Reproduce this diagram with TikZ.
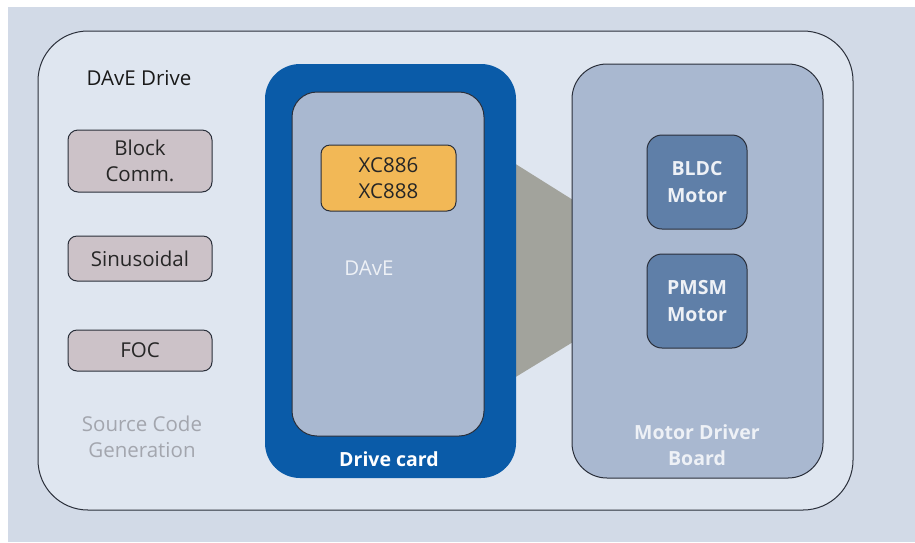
\documentclass[tikz,border=0pt]{standalone}
\usepackage{fontspec}
\setmainfont{Open Sans}
\definecolor{bgout}{HTML}{D2DAE7}
\definecolor{outerfill}{HTML}{DFE6F0}
\definecolor{cardblue}{HTML}{0A5BA8}
\definecolor{panel}{HTML}{A9B8D0}
\definecolor{chip}{HTML}{F2B856}
\definecolor{motor}{HTML}{5F7FA8}
\definecolor{algo}{HTML}{CCC2C8}
\definecolor{wedge}{HTML}{A2A39C}
\definecolor{srcgray}{HTML}{A3A6AE}
\definecolor{edge}{HTML}{2A2F3A}
\definecolor{lighttxt}{HTML}{EEF1F6}
\begin{document}
\begin{tikzpicture}[x=1pt,y=-1pt,
  box/.style={rectangle,draw=edge,line width=1pt,inner sep=0pt,align=center},
  txt/.style={font=\fontsize{20.5}{26.5}\selectfont},
  btxt/.style={font=\fontsize{19.5}{26.5}\selectfont\bfseries},
  lbl/.style={inner sep=0pt,align=center,txt}]
\useasboundingbox (0,0) rectangle (915,542);
\fill[white] (0,0) rectangle (915,542);
\fill[bgout] (8,7) rectangle (915,542);
\node[box,fill=outerfill,rounded corners=50pt,minimum width=815pt,minimum height=479pt] (outer) at (445.5,270.5) {};
% wedge linking drive card and motor driver board
\fill[wedge] (514,163) -- (573,200) -- (573,342) -- (514,378) -- cycle;
\node[rectangle,fill=cardblue,rounded corners=35pt,inner sep=0pt,minimum width=251pt,minimum height=414pt] (card) at (390.5,271) {};
\node[box,fill=panel,rounded corners=25pt,minimum width=192pt,minimum height=344pt] (dave) at (388,264) {};
\node[box,fill=chip,rounded corners=9pt,minimum width=135pt,minimum height=66pt,txt,text=black!85] (xc) at (388.5,178) {XC886\\XC888};
\node[lbl,text=lighttxt] (davelbl) at (369,268) {DAvE};
\node[lbl,text=white,btxt] (cardlbl) at (389,459) {Drive card};
\node[box,fill=panel,rounded corners=35pt,minimum width=251pt,minimum height=414pt] (mdb) at (697.5,271) {};
\node[box,fill=motor,rounded corners=15pt,minimum width=100pt,minimum height=94pt,text=lighttxt,btxt] (bldc) at (697,182) {BLDC\\Motor};
\node[box,fill=motor,rounded corners=15pt,minimum width=100pt,minimum height=94pt,text=lighttxt,btxt] (pmsm) at (697,301) {PMSM\\Motor};
\node[lbl,text=lighttxt,btxt] (mdblbl) at (697,445) {Motor Driver\\Board};
\node[lbl,text=black!90] (drive) at (139,78) {DAvE Drive};
\node[box,fill=algo,rounded corners=10pt,minimum width=144pt,minimum height=62pt,txt,text=black!85] (block) at (140,161) {Block\\Comm.};
\node[box,fill=algo,rounded corners=9pt,minimum width=144pt,minimum height=45pt,txt,text=black!85] (sin) at (140,258.5) {Sinusoidal};
\node[box,fill=algo,rounded corners=9pt,minimum width=144pt,minimum height=41pt,txt,text=black!85] (foc) at (140,350.5) {FOC};
\node[lbl,text=srcgray] (src) at (142,437) {Source Code\\Generation};
\end{tikzpicture}
\end{document}
